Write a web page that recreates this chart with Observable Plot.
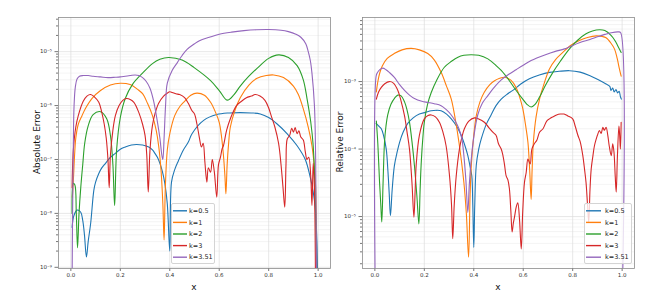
<!DOCTYPE html>
<html><head><meta charset="utf-8">
<script src="https://cdn.jsdelivr.net/npm/d3@7"></script>
<script src="https://cdn.jsdelivr.net/npm/@observablehq/plot@0.6"></script>
<style>
body{margin:0;background:#fff;}
#wrap{position:relative;width:665px;height:295px;font-family:"DejaVu Sans",sans-serif;overflow:hidden;background:#fff}
.p{position:absolute;top:0}
.lab{position:absolute;font-size:9px;color:#111;white-space:nowrap;transform:translate(-50%,-50%)}
.lab.rot{transform:translate(-50%,-50%) rotate(-90deg)}
.legend{position:absolute;background:rgba(255,255,255,0.8);border:1px solid #d4d4d4;border-radius:2px;box-sizing:border-box}
.legend svg{position:absolute;left:0;top:0;overflow:visible}
</style></head>
<body><div id="wrap"></div>
<script>
// ---------- ticks / labels ----------
const xTicks = [0, 0.2, 0.4, 0.6, 0.8, 1.0];
const absTicks = [1e-9, 1e-8, 1e-7, 1e-6, 1e-5];
const relTicks = [1e-5, 1e-4, 1e-3];
const absDomain = [9.5e-10, 4.3e-5];
const relDomain = [1.7e-6, 8.9e-3];
const seriesLabels = ["k=0.5", "k=1", "k=2", "k=3", "k=3.51"];
const colors = ["#1f77b4", "#ff7f0e", "#2ca02c", "#d62728", "#9467bd"];

// ---------- Absolute error (left) ----------
const abs_k05 = [[0.005,5.5e-9],[0.012,9e-9],[0.025,1.15e-8],[0.04,1.05e-8],[0.048,7.4e-9],[0.055,4e-9],[0.063,1.55e-9],[0.07,3e-9],[0.08,6.5e-9],[0.093,2.7e-8],[0.1,3.8e-8],[0.113,5.5e-8],[0.125,7e-8],[0.14,8.5e-8],[0.16,1.1e-7],[0.18,1.3e-7],[0.2,1.55e-7],[0.22,1.7e-7],[0.245,1.85e-7],[0.265,1.9e-7],[0.29,1.85e-7],[0.315,1.7e-7],[0.33,1.5e-7],[0.34,1.3e-7],[0.35,1.1e-7],[0.36,8.5e-8],[0.37,6e-8],[0.38,3.6e-8],[0.39,1.5e-8],[0.4,2e-9],[0.407,3.8e-8],[0.42,6.5e-8],[0.435,9.5e-8],[0.455,1.5e-7],[0.475,2.1e-7],[0.49,3e-7],[0.537,5.3e-7],[0.59,6.8e-7],[0.64,7.3e-7],[0.685,7.4e-7],[0.73,7.3e-7],[0.766,7e-7],[0.8,6e-7],[0.833,4.6e-7],[0.875,3e-7],[0.915,1.8e-7],[0.948,1e-7],[0.968,4.7e-8],[0.98,2.5e-8],[0.988,1.3e-8],[0.995,3e-9],[1.0,1e-10]];
const abs_k1 = [[0.006,2e-8],[0.01,4e-8],[0.015,1.2e-7],[0.02,2.5e-7],[0.03,4.5e-7],[0.045,6.5e-7],[0.06,9e-7],[0.085,1.35e-6],[0.12,1.9e-6],[0.16,2.4e-6],[0.2,2.6e-6],[0.24,2.45e-6],[0.27,2e-6],[0.29,1.66e-6],[0.31,1.1e-6],[0.33,6.5e-7],[0.345,3.5e-7],[0.355,1.8e-7],[0.365,6e-8],[0.372,1.5e-8],[0.377,3.2e-9],[0.382,3e-8],[0.39,1.5e-7],[0.4,3e-7],[0.42,6.5e-7],[0.44,9.5e-7],[0.46,1.2e-6],[0.485,1.55e-6],[0.51,1.7e-6],[0.54,1.55e-6],[0.565,1.15e-6],[0.585,7.5e-7],[0.6,4.9e-7],[0.61,2.5e-7],[0.617,1.2e-7],[0.623,5e-8],[0.627,2.3e-8],[0.632,8e-8],[0.638,2e-7],[0.645,4e-7],[0.665,8.5e-7],[0.685,1.4e-6],[0.72,2.4e-6],[0.753,3.2e-6],[0.79,3.6e-6],[0.82,3.7e-6],[0.86,3.3e-6],[0.9,2.3e-6],[0.92,1.6e-6],[0.94,8.7e-7],[0.96,4e-7],[0.975,1.8e-7],[0.985,7e-8],[0.99,3e-8],[0.995,1e-10]];
const abs_k2 = [[0.005,1e-8],[0.01,3.6e-8],[0.016,3.4e-8],[0.022,1e-8],[0.027,2.3e-9],[0.033,1e-8],[0.04,3e-8],[0.048,8e-8],[0.056,2e-7],[0.07,4.2e-7],[0.09,6.8e-7],[0.12,7.7e-7],[0.145,5.7e-7],[0.16,2.8e-7],[0.17,8e-8],[0.177,1.4e-8],[0.185,1.5e-7],[0.2,6e-7],[0.22,1.35e-6],[0.25,2.5e-6],[0.29,4e-6],[0.33,6e-6],[0.36,7.2e-6],[0.395,7.8e-6],[0.45,7e-6],[0.5,5e-6],[0.565,2.9e-6],[0.6,1.9e-6],[0.632,1.26e-6],[0.66,1.6e-6],[0.685,2.3e-6],[0.72,3.5e-6],[0.753,4.9e-6],[0.8,7.5e-6],[0.84,8.7e-6],[0.88,7.8e-6],[0.915,5.5e-6],[0.94,3e-6],[0.955,1.35e-6],[0.97,5e-7],[0.98,1.8e-7],[0.99,1e-8],[0.995,1e-10]];
const abs_k3 = [[0.005,3e-8],[0.01,1.5e-7],[0.02,4e-7],[0.03,6.5e-7],[0.05,1.2e-6],[0.065,1.5e-6],[0.08,1.6e-6],[0.095,1.45e-6],[0.113,1.15e-6],[0.125,7.5e-7],[0.135,4.5e-7],[0.143,2.5e-7],[0.15,1e-7],[0.155,3e-8],[0.16,1.2e-7],[0.17,3.5e-7],[0.18,6.5e-7],[0.195,1e-6],[0.21,1.25e-6],[0.225,1.35e-6],[0.24,1.3e-6],[0.255,1.15e-6],[0.275,7.4e-7],[0.29,4.5e-7],[0.3,2.8e-7],[0.307,1.2e-7],[0.313,2.5e-8],[0.32,1.5e-7],[0.33,4.3e-7],[0.34,7e-7],[0.355,1.1e-6],[0.375,1.5e-6],[0.39,1.7e-6],[0.4,1.8e-6],[0.41,1.75e-6],[0.425,1.65e-6],[0.44,1.6e-6],[0.46,1.4e-6],[0.475,1.1e-6],[0.49,8e-7],[0.5,7e-7],[0.51,4.5e-7],[0.52,2.5e-7],[0.528,1.7e-7],[0.535,2e-7],[0.542,9e-8],[0.55,3.8e-8],[0.556,7e-8],[0.565,5.8e-8],[0.572,1e-7],[0.58,6e-8],[0.59,2e-8],[0.597,8e-8],[0.605,1.1e-7],[0.612,1.6e-7],[0.617,1.8e-7],[0.63,3.5e-7],[0.645,5.7e-7],[0.67,1e-6],[0.69,1.2e-6],[0.71,1.4e-6],[0.73,1.5e-6],[0.745,1.6e-6],[0.765,1.5e-6],[0.785,1.25e-6],[0.8,9e-7],[0.81,6.5e-7],[0.825,4e-7],[0.84,2e-7],[0.85,8e-8],[0.858,3e-8],[0.865,1.3e-8],[0.87,8e-8],[0.875,2.4e-7],[0.885,2.8e-7],[0.893,3.8e-7],[0.9,3.2e-7],[0.907,3.9e-7],[0.915,3e-7],[0.922,3.4e-7],[0.93,2.6e-7],[0.94,2.3e-7],[0.948,1.4e-7],[0.955,1e-7],[0.962,1.1e-7],[0.97,5e-8],[0.975,1.4e-8],[0.98,8.5e-8],[0.985,3e-8],[0.99,1e-10]];
const abs_k351 = [[0.004,1e-10],[0.007,1e-8],[0.01,2e-7],[0.013,1e-6],[0.018,2.2e-6],[0.025,3.1e-6],[0.035,3.5e-6],[0.05,3.6e-6],[0.07,3.6e-6],[0.09,3.5e-6],[0.12,3.4e-6],[0.15,3.3e-6],[0.18,3.35e-6],[0.2,3.4e-6],[0.22,3.5e-6],[0.24,3.6e-6],[0.26,3.7e-6],[0.275,3.6e-6],[0.29,3.3e-6],[0.305,2.8e-6],[0.32,2.1e-6],[0.335,1.2e-6],[0.35,5e-7],[0.36,2.5e-7],[0.368,1.2e-7],[0.372,1e-7],[0.377,2.5e-7],[0.383,1e-6],[0.39,2.6e-6],[0.41,4.5e-6],[0.43,6.2e-6],[0.45,8.5e-6],[0.47,1.1e-5],[0.5,1.4e-5],[0.52,1.6e-5],[0.56,1.85e-5],[0.6,2.1e-5],[0.65,2.3e-5],[0.7,2.45e-5],[0.75,2.55e-5],[0.8,2.58e-5],[0.85,2.5e-5],[0.88,2.35e-5],[0.91,2.1e-5],[0.93,1.85e-5],[0.95,1.4e-5],[0.96,1e-5],[0.968,7e-6],[0.975,4e-6],[0.985,1e-6],[0.99,1e-7],[0.994,1e-10]];

// ---------- Relative error (right) ----------
const rel_k05 = [[0.005,2.4e-4],[0.015,2.2e-4],[0.026,2e-4],[0.035,1.6e-4],[0.046,1e-4],[0.053,4.6e-5],[0.058,2.2e-5],[0.063,1.03e-5],[0.07,2.5e-5],[0.079,5.7e-5],[0.09,9e-5],[0.1,1.26e-4],[0.115,1.8e-4],[0.133,2.4e-4],[0.155,2.9e-4],[0.18,3.3e-4],[0.205,3.5e-4],[0.228,3.7e-4],[0.25,3.75e-4],[0.268,3.7e-4],[0.29,3.3e-4],[0.309,2.8e-4],[0.33,2.2e-4],[0.349,1.6e-4],[0.365,1.1e-4],[0.376,8e-5],[0.385,5.5e-5],[0.392,4e-5],[0.396,1.5e-5],[0.4,3.5e-6],[0.404,1.5e-5],[0.41,5.7e-5],[0.42,1e-4],[0.43,1.4e-4],[0.45,2.3e-4],[0.47,3.2e-4],[0.49,4.4e-4],[0.511,5.5e-4],[0.535,6.5e-4],[0.558,7.4e-4],[0.59,9.2e-4],[0.625,1.1e-3],[0.665,1.25e-3],[0.706,1.37e-3],[0.745,1.42e-3],[0.787,1.45e-3],[0.83,1.38e-3],[0.868,1.23e-3],[0.9,1.08e-3],[0.935,9.2e-4],[0.95,8.5e-4],[0.955,7.4e-4],[0.962,8e-4],[0.968,7e-4],[0.975,7.6e-4],[0.982,6.8e-4],[0.988,7.2e-4],[0.993,6e-4],[0.997,5.5e-4]];
const rel_k1 = [[0.006,7e-4],[0.012,1e-3],[0.02,1.35e-3],[0.03,1.7e-3],[0.05,2.2e-3],[0.078,2.6e-3],[0.11,2.95e-3],[0.147,3.1e-3],[0.18,2.95e-3],[0.214,2.6e-3],[0.24,2.1e-3],[0.268,1.37e-3],[0.29,8.5e-4],[0.309,5.5e-4],[0.325,2.8e-4],[0.34,1.26e-4],[0.36,3.2e-5],[0.37,1.1e-5],[0.379,2.5e-6],[0.385,2e-5],[0.39,5.7e-5],[0.4,1.6e-4],[0.41,3.1e-4],[0.425,5e-4],[0.443,7e-4],[0.465,9e-4],[0.484,1.03e-3],[0.505,1.12e-3],[0.524,1.16e-3],[0.55,1.05e-3],[0.571,8.2e-4],[0.585,6e-4],[0.598,4e-4],[0.61,2.2e-4],[0.619,1.26e-4],[0.626,5e-5],[0.632,1.8e-5],[0.636,5e-5],[0.641,1.26e-4],[0.652,3e-4],[0.666,5.5e-4],[0.685,9.5e-4],[0.706,1.54e-3],[0.73,2.1e-3],[0.76,2.7e-3],[0.79,3.4e-3],[0.827,4.05e-3],[0.86,4.5e-3],[0.895,4.75e-3],[0.92,4.65e-3],[0.935,4.45e-3],[0.955,3.7e-3],[0.969,3.05e-3],[0.98,2.2e-3],[0.989,1.54e-3],[0.996,1.2e-3]];
const rel_k2 = [[0.006,2.6e-4],[0.012,1.2e-4],[0.019,3.2e-5],[0.024,1.5e-5],[0.028,8.3e-6],[0.033,3e-5],[0.039,1.26e-4],[0.045,2.2e-4],[0.052,3.2e-4],[0.065,4.6e-4],[0.08,5.7e-4],[0.093,6.3e-4],[0.105,6.2e-4],[0.12,5e-4],[0.13,3.8e-4],[0.14,2.5e-4],[0.15,1.3e-4],[0.16,5.7e-5],[0.17,2e-5],[0.178,7.8e-6],[0.183,2.5e-5],[0.187,5.7e-5],[0.193,1.3e-4],[0.2,2.5e-4],[0.213,4.6e-4],[0.228,6.9e-4],[0.25,1.05e-3],[0.281,1.63e-3],[0.31,2e-3],[0.336,2.3e-3],[0.36,2.45e-3],[0.389,2.5e-3],[0.42,2.45e-3],[0.457,2.17e-3],[0.49,1.73e-3],[0.511,1.46e-3],[0.544,1.03e-3],[0.57,7.5e-4],[0.598,5.5e-4],[0.615,4.6e-4],[0.632,4.2e-4],[0.648,4.6e-4],[0.666,5.9e-4],[0.69,8.8e-4],[0.72,1.37e-3],[0.75,2e-3],[0.787,3.05e-3],[0.82,4.1e-3],[0.854,5.1e-3],[0.88,5.6e-3],[0.908,5.85e-3],[0.93,5.7e-3],[0.956,4.8e-3],[0.97,4.1e-3],[0.982,3.4e-3],[0.996,2.7e-3]];
const rel_k3 = [[0.006,5.5e-4],[0.015,7e-4],[0.026,8.2e-4],[0.04,9.3e-4],[0.059,1e-3],[0.075,9.5e-4],[0.093,7.4e-4],[0.105,5.3e-4],[0.12,3.1e-4],[0.13,1.8e-4],[0.14,1e-4],[0.15,3.2e-5],[0.158,9.8e-6],[0.163,2.5e-5],[0.167,5.7e-5],[0.18,1.6e-4],[0.2,2.8e-4],[0.215,3.15e-4],[0.228,3.2e-4],[0.245,3e-4],[0.261,2.5e-4],[0.275,1.8e-4],[0.288,1.12e-4],[0.302,4e-5],[0.31,1.5e-5],[0.315,4.7e-6],[0.321,1.5e-5],[0.329,4e-5],[0.342,1e-4],[0.352,1.5e-4],[0.362,2e-4],[0.38,2.6e-4],[0.403,2.9e-4],[0.42,2.8e-4],[0.443,2.5e-4],[0.46,2.1e-4],[0.477,1.78e-4],[0.49,1.6e-4],[0.5,1.2e-4],[0.511,1e-4],[0.518,8e-5],[0.524,6e-5],[0.531,4e-5],[0.538,3.5e-5],[0.544,2.6e-5],[0.55,1.2e-5],[0.555,5.9e-6],[0.56,8e-6],[0.565,1e-5],[0.572,1.4e-5],[0.578,1.6e-5],[0.585,9e-6],[0.592,3.3e-6],[0.598,1.2e-5],[0.605,3.2e-5],[0.612,4.5e-5],[0.619,7.1e-5],[0.628,6e-5],[0.635,1e-4],[0.645,1.2e-4],[0.655,1.35e-4],[0.666,1.78e-4],[0.68,2e-4],[0.695,2.6e-4],[0.706,2.8e-4],[0.72,3e-4],[0.735,3.2e-4],[0.75,3.3e-4],[0.765,3.3e-4],[0.78,3.1e-4],[0.8,2.8e-4],[0.81,2.2e-4],[0.821,1.6e-4],[0.83,1.3e-4],[0.841,8e-5],[0.848,5e-5],[0.854,3.2e-5],[0.86,1.5e-5],[0.865,8.3e-6],[0.87,2.5e-5],[0.875,5.1e-5],[0.882,8e-5],[0.888,1.12e-4],[0.895,1.4e-4],[0.9,1.6e-4],[0.908,1.88e-4],[0.915,1.7e-4],[0.922,2.1e-4],[0.928,1.9e-4],[0.935,2.1e-4],[0.942,1.6e-4],[0.948,1.1e-4],[0.956,8e-5],[0.962,1.2e-4],[0.967,9e-5],[0.972,4e-5],[0.976,2.3e-5],[0.981,8e-5],[0.987,2.2e-4],[0.99,1.6e-4],[0.993,1e-4],[0.996,2.5e-4]];
const rel_k351 = [[0.004,1e-7],[0.005,1.2e-3],[0.01,1.35e-3],[0.02,1.5e-3],[0.032,1.58e-3],[0.045,1.5e-3],[0.06,1.35e-3],[0.078,1.16e-3],[0.1,9e-4],[0.12,7.4e-4],[0.14,6.3e-4],[0.16,5.6e-4],[0.19,5.1e-4],[0.215,4.9e-4],[0.24,4.7e-4],[0.268,4.4e-4],[0.29,3.8e-4],[0.309,3.2e-4],[0.325,2.6e-4],[0.34,2e-4],[0.352,1.4e-4],[0.36,8e-5],[0.368,3.5e-5],[0.376,1.15e-5],[0.382,3e-5],[0.39,7.2e-5],[0.4,1.5e-4],[0.416,3.2e-4],[0.435,4.8e-4],[0.457,6.2e-4],[0.48,8e-4],[0.51,1.05e-3],[0.54,1.27e-3],[0.571,1.5e-3],[0.6,1.75e-3],[0.632,2.05e-3],[0.69,2.5e-3],[0.73,2.8e-3],[0.767,3.05e-3],[0.827,3.75e-3],[0.87,4.2e-3],[0.9,4.6e-3],[0.93,5e-3],[0.956,5.3e-3],[0.985,5.45e-3],[0.994,5.3e-3],[0.996,1e-7]];

const absSeries = [abs_k05, abs_k1, abs_k2, abs_k3, abs_k351];
const relSeries = [rel_k05, rel_k1, rel_k2, rel_k3, rel_k351];

// ---------- helpers ----------
const supMap = {"-":"⁻","0":"⁰","1":"¹","2":"²","3":"³","4":"⁴","5":"⁵","6":"⁶","7":"⁷","8":"⁸","9":"⁹"};
const fmtPow = d => "10" + String(Math.round(Math.log10(d))).split("").map(c => supMap[c]).join("");
function minors(domain) {
  const out = [];
  for (let e = Math.floor(Math.log10(domain[0])); e <= Math.ceil(Math.log10(domain[1])); e++)
    for (let m = 2; m <= 9; m++) { const v = m * Math.pow(10, e); if (v >= domain[0] && v <= domain[1]) out.push(v); }
  return out;
}

function panel(series, yDomain, yTicks, width, ml, mr) {
  const minor = minors(yDomain);
  return Plot.plot({
    width, height: 295,
    marginLeft: ml, marginRight: mr, marginTop: 17, marginBottom: 27,
    style: {fontFamily: "DejaVu Sans, sans-serif", background: "transparent", color: "#333", overflow: "visible"},
    x: {domain: [-0.05, 1.05]},
    y: {type: "log", domain: yDomain},
    marks: [
      Plot.ruleY(minor, {stroke: "#ececec", strokeWidth: 0.6}),
      Plot.ruleY(yTicks, {stroke: "#dcdcdc", strokeWidth: 0.7}),
      Plot.ruleX(xTicks, {stroke: "#dcdcdc", strokeWidth: 0.7}),
      ...series.map((s, i) => Plot.line(s, {x: d => d[0], y: d => d[1], stroke: colors[i], strokeWidth: 1.1, curve: "catmull-rom", clip: true})),
      Plot.axisY(minor, {tickSize: 2, tickFormat: () => "", stroke: "#777", label: null}),
      Plot.axisY(yTicks, {tickSize: 3.5, tickPadding: 3, tickFormat: fmtPow, fontSize: 5.5, stroke: "#777", label: null}),
      Plot.axisX(xTicks, {tickSize: 3, tickPadding: 2, tickFormat: d3.format(".1f"), fontSize: 5.5, stroke: "#777", label: null}),
      Plot.frame({stroke: "#8c8c8c", strokeWidth: 0.8})
    ]
  });
}

const wrap = document.getElementById("wrap");
function place(el, left) { el.classList.add("p"); el.style.left = left + "px"; wrap.appendChild(el); }
place(panel(absSeries, absDomain, absTicks, 335, 58, 5), 0);
place(panel(relSeries, relDomain, relTicks, 330, 27, 31), 335);

function label(text, x, y, rot) {
  const d = document.createElement("div");
  d.className = "lab" + (rot ? " rot" : "");
  d.textContent = text; d.style.left = x + "px"; d.style.top = y + "px";
  wrap.appendChild(d);
}
label("Absolute Error", 37, 142, true);
label("Relative Error", 340, 142, true);
label("x", 194, 287, false);
label("x", 498, 287, false);

const NS = "http://www.w3.org/2000/svg";
function legend(left, top, w, h, swL, swW, txL, y0, dy) {
  const box = document.createElement("div");
  box.className = "legend";
  Object.assign(box.style, {left: left + "px", top: top + "px", width: w + "px", height: h + "px"});
  const svg = document.createElementNS(NS, "svg");
  svg.setAttribute("width", w); svg.setAttribute("height", h);
  seriesLabels.forEach((t, i) => {
    const y = y0 + i * dy - top - 1;
    const ln = document.createElementNS(NS, "line");
    ln.setAttribute("x1", swL - left - 1); ln.setAttribute("x2", swL - left - 1 + swW);
    ln.setAttribute("y1", y); ln.setAttribute("y2", y);
    ln.setAttribute("stroke", colors[i]); ln.setAttribute("stroke-width", 1.4);
    svg.appendChild(ln);
    const tx = document.createElementNS(NS, "text");
    tx.setAttribute("x", txL - left - 1); tx.setAttribute("y", y);
    tx.setAttribute("dy", "0.35em");
    tx.setAttribute("font-size", 6.5); tx.setAttribute("fill", "#222");
    tx.setAttribute("font-family", "DejaVu Sans, sans-serif");
    tx.textContent = t;
    svg.appendChild(tx);
  });
  box.appendChild(svg);
  wrap.appendChild(box);
}
legend(171, 203, 44, 61, 173, 14, 189, 210.8, 11.6);
legend(584, 203, 48, 61, 586, 15, 605, 210.8, 11.6);
</script></body></html>
